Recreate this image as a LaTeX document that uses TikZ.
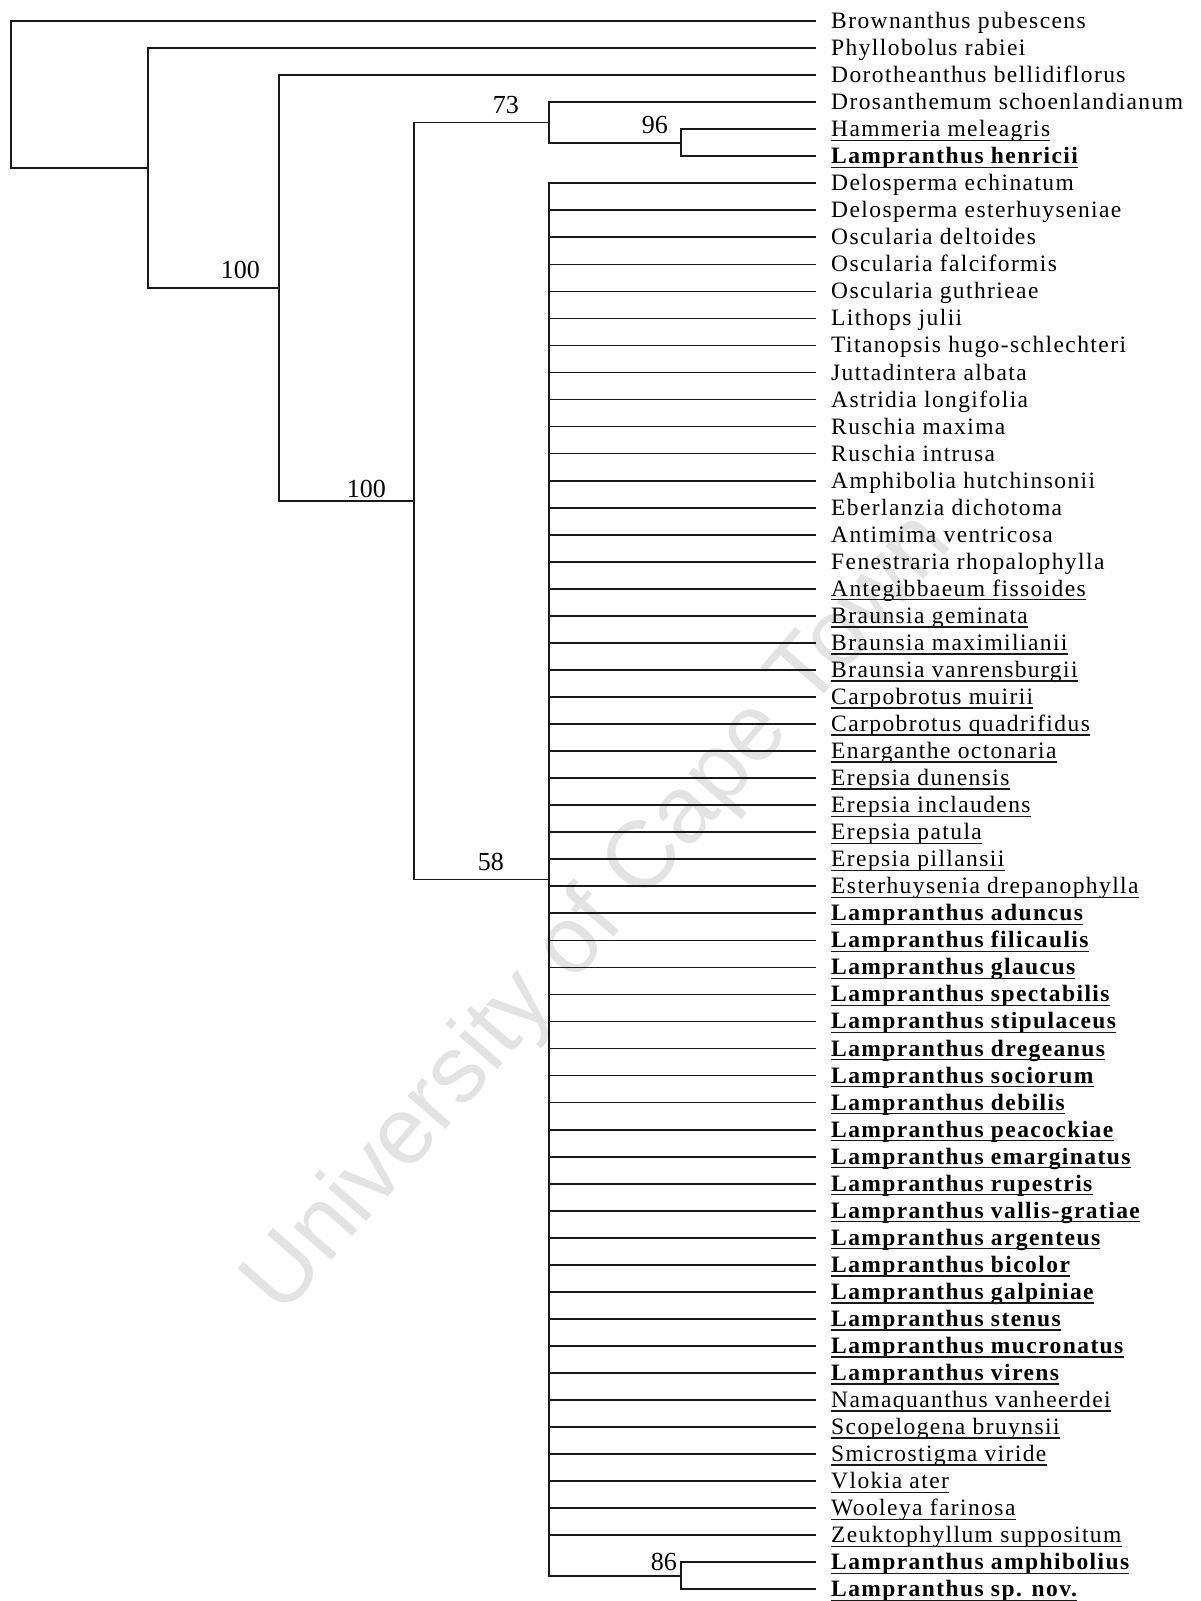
\documentclass[tikz,border=0pt]{standalone}
\usepackage{fontspec}
\setmainfont{Liberation Serif}
\newfontfamily\leaffont[LetterSpace=6]{Liberation Serif}
\newfontfamily\wmfont{Liberation Sans}
\begin{document}
\begin{tikzpicture}[x=1pt,y=-1pt,
  branch/.style={line width=1.7pt, draw=black!90},
  uline/.style={line width=1.3pt, draw=black!90},
  leaf/.style={anchor=base west, inner sep=0pt, font=\leaffont\fontsize{23.5}{26}\selectfont},
  bleaf/.style={leaf, font=\leaffont\bfseries\fontsize{23.5}{26}\selectfont},
  support/.style={anchor=base east, inner sep=0pt, font=\fontsize{26}{28}\selectfont},
  wm/.style={text=black!11, font=\wmfont\fontsize{95}{100}\selectfont, rotate=49}
]
\useasboundingbox (0,0) rectangle (1200,1601);
% watermark
\node[wm] (wm) at (600,915) {University of Cape Town};
% leaves
\foreach \i/\t/\s in {
 1/Brownanthus pubescens/0,
 2/Phyllobolus rabiei/0,
 3/Dorotheanthus bellidiflorus/0,
 4/Drosanthemum schoenlandianum/0,
 5/Hammeria meleagris/1,
 6/Lampranthus henricii/2,
 7/Delosperma echinatum/0,
 8/Delosperma esterhuyseniae/0,
 9/Oscularia deltoides/0,
 10/Oscularia falciformis/0,
 11/Oscularia guthrieae/0,
 12/Lithops julii/0,
 13/Titanopsis hugo-schlechteri/0,
 14/Juttadintera albata/0,
 15/Astridia longifolia/0,
 16/Ruschia maxima/0,
 17/Ruschia intrusa/0,
 18/Amphibolia hutchinsonii/0,
 19/Eberlanzia dichotoma/0,
 20/Antimima ventricosa/0,
 21/Fenestraria rhopalophylla/0,
 22/Antegibbaeum fissoides/1,
 23/Braunsia geminata/1,
 24/Braunsia maximilianii/1,
 25/Braunsia vanrensburgii/1,
 26/Carpobrotus muirii/1,
 27/Carpobrotus quadrifidus/1,
 28/Enarganthe octonaria/1,
 29/Erepsia dunensis/1,
 30/Erepsia inclaudens/1,
 31/Erepsia patula/1,
 32/Erepsia pillansii/1,
 33/Esterhuysenia drepanophylla/1,
 34/Lampranthus aduncus/2,
 35/Lampranthus filicaulis/2,
 36/Lampranthus glaucus/2,
 37/Lampranthus spectabilis/2,
 38/Lampranthus stipulaceus/2,
 39/Lampranthus dregeanus/2,
 40/Lampranthus sociorum/2,
 41/Lampranthus debilis/2,
 42/Lampranthus peacockiae/2,
 43/Lampranthus emarginatus/2,
 44/Lampranthus rupestris/2,
 45/Lampranthus vallis-gratiae/2,
 46/Lampranthus argenteus/2,
 47/Lampranthus bicolor/2,
 48/Lampranthus galpiniae/2,
 49/Lampranthus stenus/2,
 50/Lampranthus mucronatus/2,
 51/Lampranthus virens/2,
 52/Namaquanthus vanheerdei/1,
 53/Scopelogena bruynsii/1,
 54/Smicrostigma viride/1,
 55/Vlokia ater/1,
 56/Wooleya farinosa/1,
 57/Zeuktophyllum suppositum/1,
 58/Lampranthus amphibolius/2,
 59/Lampranthus sp. nov./2}{
  \pgfmathsetmacro{\yy}{21+(\i-1)*27.04}
  \coordinate (e\i) at (816,\yy);
  \ifnum\s=2
    \node[bleaf] (leaf\i) at (831,\yy+7.5) {\t};
  \else
    \node[leaf] (leaf\i) at (831,\yy+7.5) {\t};
  \fi
  \ifnum\s>0
    \draw[uline] ([yshift=-3.5pt]leaf\i.base west) -- ([yshift=-3.5pt]leaf\i.base east);
  \fi
}
% internal nodes
\coordinate (n6) at (681,142.68);
\coordinate (n5) at (549,122.4);
\coordinate (n8) at (681,1575.8);
\coordinate (poly) at (549,879.52);
\coordinate (n4) at (414,500.96);
\coordinate (n3) at (279,288.02);
\coordinate (n2) at (148,168.03);
\coordinate (root) at (11,94.5);
% branches
\draw[branch] (root) |- (e1);
\draw[branch] (root) |- (n2);
\draw[branch] (n2) |- (e2);
\draw[branch] (n2) |- (n3);
\draw[branch] (n3) |- (e3);
\draw[branch] (n3) |- (n4);
\draw[branch] (n4) |- (n5);
\draw[branch] (n4) |- (poly);
\draw[branch] (n5) |- (e4);
\draw[branch] (n5) |- (n6);
\draw[branch] (n6) |- (e5);
\draw[branch] (n6) |- (e6);
\foreach \i in {7,...,57}{\draw[branch] (poly) |- (e\i);}
\draw[branch] (poly) |- (n8);
\draw[branch] (n8) |- (e58);
\draw[branch] (n8) |- (e59);
% support values
\node[support] (s73) at (519,113) {73};
\node[support] (s96) at (668,133) {96};
\node[support] (s100a) at (260,278) {100};
\node[support] (s100b) at (386,497) {100};
\node[support] (s58) at (504,870) {58};
\node[support] (s86) at (677,1570) {86};
\end{tikzpicture}
\end{document}
